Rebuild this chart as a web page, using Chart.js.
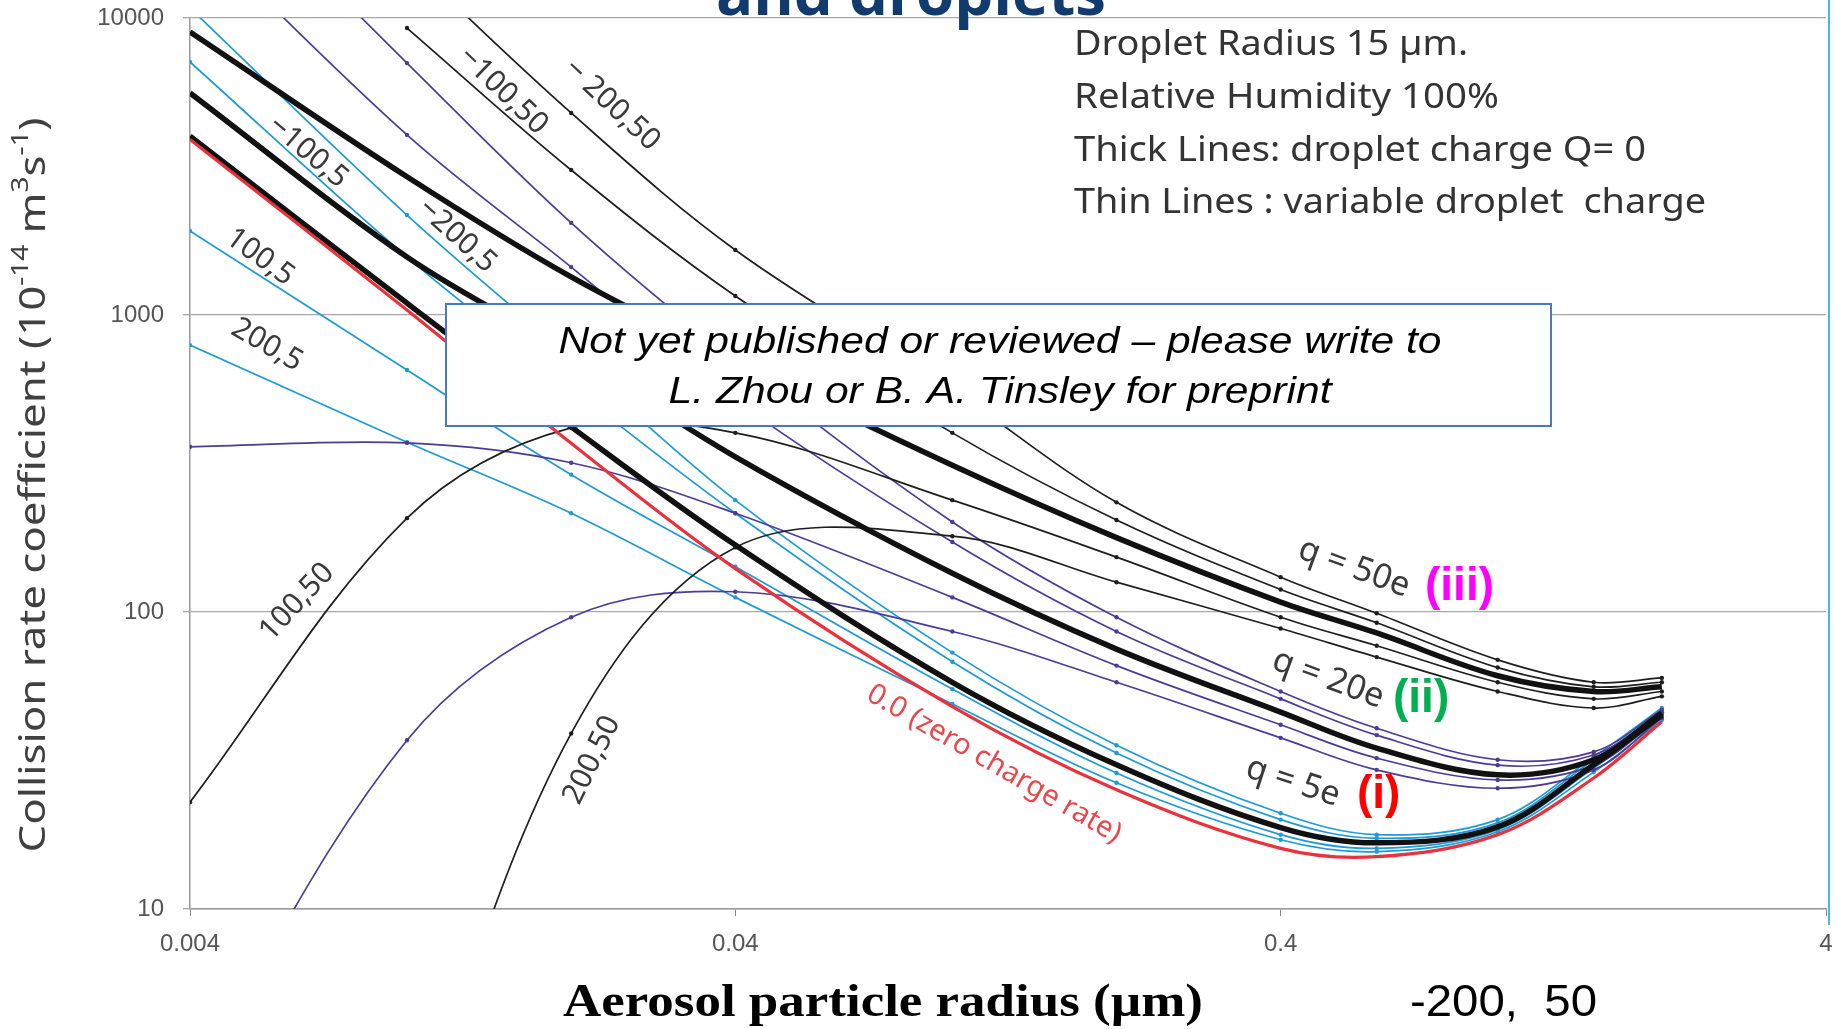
<!DOCTYPE html>
<html>
<head>
<meta charset="utf-8">
<script src="https://cdn.jsdelivr.net/npm/chart.js@4.4.1/dist/chart.umd.min.js"></script>
<style>
  html, body { margin: 0; padding: 0; background: #ffffff; }
  #wrap { width: 1835px; height: 1029px; }
</style>
</head>
<body>
<div id="wrap"><canvas id="rateChart" width="1835" height="1029"></canvas></div>
<script>

// aerosol particle radius (um) where the curves were computed
const radius = [0.004, 0.01, 0.02, 0.04, 0.1, 0.2, 0.4, 0.6, 1.0, 1.5, 2.0];

const xTicks = [0.004, 0.04, 0.4, 4];
const yTicks = [10, 100, 1000, 10000];

// zero charge rate
const zeroCharge = [3900, 1040, 370, 140, 48, 25.2, 16, 15, 17.8, 27.6, 42.7];

// q = 5e  (Q,q)
const m200_5 = [10800, 2170, 720, 238, 73, 35.6, 21, 17.8, 20, 32.5, 47.5];
const m100_5 = [7110, 1567, 570, 215, 68, 33.5, 20, 17.3, 19.5, 31.8, 46];
const q0_5   = [4000, 1096, 420, 168, 58, 30.6, 18.8, 16.7, 18.9, 30.6, 45];
const p100_5 = [1919, 653, 290, 142, 55, 28.7, 17.8, 16, 18.5, 29.8, 44];
const p200_5 = [792, 373, 215, 112, 49, 26.6, 17.1, 15.6, 18.2, 28.9, 43.3];

// q = 20e
const m200_20 = [37700, 7050, 2042, 702, 201, 96, 54, 40.6, 31.8, 33.8, 46.8];
const m100_20 = [20400, 4040, 1450, 516, 172, 86, 51, 38.5, 30.5, 33, 46];
const q0_20   = [5590, 1567, 740, 333, 135, 75, 46, 34.8, 28.3, 31.8, 45.7];
const p100_20 = [360, 371, 318, 215, 112, 66, 41.7, 32.2, 27.2, 30.5, 45];
const p200_20 = [2.5, 37, 96, 117, 86, 58, 37.7, 29.4, 25.5, 29.4, 44];

// q = 50e
const m200_50 = [null, 15700, 4790, 1656, 560, 234, 131, 99, 69, 58, 60];
const m100_50 = [null, 9250, 3077, 1159, 401, 204, 119, 92, 65, 56, 58];
const q0_50   = [8970, 2920, 1343, 700, 312, 178, 108, 85, 61, 54, 56];
const p100_50 = [22.9, 207, 417, 401, 238, 153, 96, 77, 58, 51, 54];
const p200_50 = [null, 1.5, 39, 165, 180, 126, 88, 70.5, 54, 47.5, 52];

const BLACK = "#1e1e1e";
const CYAN = "#1f9ad6";
const PURPLE = "#4e3b96";
const RED = "#e8323c";

function pts(vals){
    return radius
        .map((r,i) => ({x: r, y: vals[i]}))
        .filter(p => p.y !== null);
}

function thin(label, vals, color){
    return {
        label: label,
        data: pts(vals),
        borderColor: color,
        backgroundColor: color,
        borderWidth: 1.7,
        pointRadius: 2.2,
        pointBorderWidth: 0,
        tension: 0.35,
        clip: 0,
        order: 2
    };
}

function thick(label, vals){
    return {
        label: label,
        data: pts(vals),
        borderColor: "#111111",
        backgroundColor: "#111111",
        borderWidth: 5.5,
        pointRadius: 0,
        tension: 0.35,
        clip: 0,
        order: 1
    };
}

const datasets = [
    thin("-200,50", m200_50, BLACK),
    thin("-100,50", m100_50, BLACK),
    thin("100,50", p100_50, BLACK),
    thin("200,50", p200_50, BLACK),
    thin("-200,20", m200_20, PURPLE),
    thin("-100,20", m100_20, PURPLE),
    thin("100,20", p100_20, PURPLE),
    thin("200,20", p200_20, PURPLE),
    thin("-200,5", m200_5, CYAN),
    thin("-100,5", m100_5, CYAN),
    thin("100,5", p100_5, CYAN),
    thin("200,5", p200_5, CYAN),
    Object.assign(thin("0.0", zeroCharge, RED), {borderWidth: 3.2, pointRadius: 0, order: 0}),
    thick("0,50", q0_50),
    thick("0,20", q0_20),
    thick("0,5", q0_5)
];

// text drawn squeezed to the width seen in the picture
function fitText(c, text, x, y, width, font, color, align){
    c.save();
    c.font = font;
    c.fillStyle = color;
    c.textBaseline = "alphabetic";
    const w = c.measureText(text).width;
    c.translate(x, y);
    c.scale(width / w, 1);
    c.textAlign = align || "left";
    c.fillText(text, 0, 0);
    c.restore();
}

function rotText(c, text, x, y, deg, font, color){
    c.save();
    c.font = font;
    c.fillStyle = color;
    c.translate(x, y);
    c.rotate(deg * Math.PI / 180);
    c.textAlign = "center";
    c.textBaseline = "middle";
    c.fillText(text, 0, 0);
    c.restore();
}

const decorations = {
    id: "decorations",
    afterDatasetsDraw(chart){
        const c = chart.ctx;

        // curve labels
        const lab = "30px 'Noto Sans'";
        const grey = "#3a3a3a";
        rotText(c, "\u2212100,50", 503, 91, 44, lab, grey);
        rotText(c, "\u2212 200,50", 612, 105, 43, lab, grey);
        rotText(c, "\u2212100,5", 308, 152, 40, lab, grey);
        rotText(c, "\u2212200,5", 457, 236, 42, lab, grey);
        rotText(c, "100,5", 260, 257, 36, lab, grey);
        rotText(c, "200,5", 267, 345, 30, lab, grey);
        rotText(c, "100,50", 297, 602, -47, lab, grey);
        rotText(c, "200,50", 592, 760, -64, lab, grey);
        rotText(c, "0,20", 478, 330, 40, lab, grey);
        rotText(c, "0.0 (zero charge rate)", 994, 764, 30, "29px 'Noto Sans'", "#e8474c");

        const ql = "34px 'Noto Sans'";
        rotText(c, "q = 50e", 1354, 568, 20, ql, grey);
        rotText(c, "q = 20e", 1328, 679, 20, ql, grey);
        rotText(c, "q = 5e", 1293, 782, 18, ql, grey);

        c.save();
        c.font = "bold 46px 'Liberation Sans'";
        c.textAlign = "left";
        c.fillStyle = "#ff00ff";
        c.fillText("(iii)", 1425, 600);
        c.fillStyle = "#00b050";
        c.fillText("(ii)", 1393, 712);
        c.fillStyle = "#ff0000";
        c.fillText("(i)", 1357, 808);
        c.restore();

        // notice box
        c.save();
        c.fillStyle = "#ffffff";
        c.fillRect(446, 304, 1105, 122);
        c.strokeStyle = "#4a78c2";
        c.lineWidth = 2;
        c.strokeRect(446, 304, 1105, 122);
        c.restore();
        fitText(c, "Not yet published or reviewed \u2013 please write to", 1000, 353, 883,
            "italic 37px 'Liberation Sans'", "#000000", "center");
        fitText(c, "L. Zhou or B. A. Tinsley for preprint", 1000, 403, 663,
            "italic 37px 'Liberation Sans'", "#000000", "center");
    },
    afterDraw(chart){
        const c = chart.ctx;

        // slide title remnant at the top
        fitText(c, "and droplets", 716, 15, 390, "bold 60px 'Open Sans'", "#123b6d", "left");

        // conditions text block
        const info = "34px 'Noto Sans'";
        fitText(c, "Droplet Radius 15 \u00b5m.", 1074, 55, 394, info, "#333333");
        fitText(c, "Relative Humidity 100%", 1074, 108, 425, info, "#333333");
        fitText(c, "Thick Lines: droplet charge Q= 0", 1074, 161, 572, info, "#333333");
        fitText(c, "Thin Lines : variable droplet  charge", 1074, 213, 632, info, "#333333");

        // axis titles
        fitText(c, "Aerosol particle radius (\u00b5m)", 883, 1016, 640,
            "bold 46px 'Liberation Serif'", "#000000", "center");
        fitText(c, "-200,  50", 1410, 1016, 187, "44px 'Liberation Sans'", "#000000", "left");

        // y title with superscripts
        const parts = [
            ["Collision rate coefficient (10", false],
            ["-14", true],
            [" m", false],
            ["3", true],
            ["s", false],
            ["-1", true],
            [")", false]
        ];
        const big = "36px 'Noto Sans'";
        const small = "23px 'Noto Sans'";
        c.save();
        let total = 0;
        parts.forEach(p => {
            c.font = p[1] ? small : big;
            total += c.measureText(p[0]).width;
        });
        c.translate(35, 485);
        c.rotate(-Math.PI / 2);
        c.scale(735 / total, 1);
        c.fillStyle = "#404040";
        c.textBaseline = "middle";
        let xpos = -total / 2;
        parts.forEach(p => {
            c.font = p[1] ? small : big;
            c.fillText(p[0], xpos, p[1] ? -14 : 0);
            xpos += c.measureText(p[0]).width;
        });
        c.restore();

        // cyan slide edge on the right
        c.save();
        c.strokeStyle = "#45b8e6";
        c.lineWidth = 2;
        c.beginPath();
        c.moveTo(1829, 0);
        c.lineTo(1829, 925);
        c.stroke();
        c.restore();
    }
};

const ctx = document.getElementById("rateChart");

const rateChart = new Chart(ctx, {
    type: "line",
    data: { datasets: datasets },
    plugins: [decorations],
    options: {
        responsive: false,
        animation: false,
        layout: { padding: { left: 0, right: 9, top: 18, bottom: 0 } },
        plugins: {
            legend: { display: false },
            tooltip: { enabled: false }
        },
        scales: {
            x: {
                type: "logarithmic",
                min: 0.004,
                max: 4,
                afterBuildTicks: (s) => { s.ticks = xTicks.map(v => ({ value: v })); },
                afterFit: (s) => {
                    s.height = 120;
                    s.paddingLeft = 0;
                    s.paddingRight = 0;
                },
                ticks: {
                    callback: (v) => String(v),
                    font: { family: "Liberation Sans", size: 24 },
                    color: "#555555",
                    padding: 14,
                    maxRotation: 0,
                    autoSkip: false
                },
                grid: { drawOnChartArea: false, tickLength: 7, color: "#888888" },
                border: { color: "#9a9a9a", width: 1.5 }
            },
            y: {
                type: "logarithmic",
                min: 10,
                max: 10000,
                afterBuildTicks: (s) => { s.ticks = yTicks.map(v => ({ value: v })); },
                afterFit: (s) => {
                    s.width = 190;
                    s.paddingTop = 0;
                    s.paddingBottom = 0;
                },
                ticks: {
                    callback: (v) => String(v),
                    font: { family: "Liberation Sans", size: 24 },
                    color: "#555555",
                    padding: 19
                },
                grid: { color: "#a8a8a8", lineWidth: 1.3, tickLength: 7 },
                border: { color: "#9a9a9a", width: 1.5 }
            }
        }
    }
});
</script>
</body>
</html>
